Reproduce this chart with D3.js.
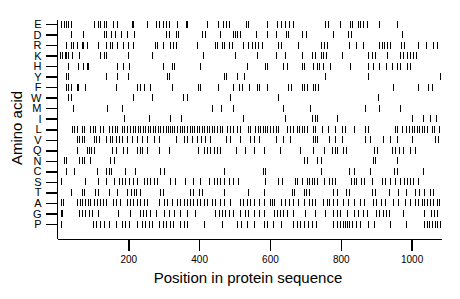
<!DOCTYPE html>
<html>
<head>
<meta charset="utf-8">
<script src="https://cdn.jsdelivr.net/npm/d3@7"></script>
<style>
  body { margin: 0; background: #fff; }
  text { font-family: "Liberation Sans", Arial, sans-serif; fill: #000; }
  .mark { stroke: #000; stroke-width: 1; shape-rendering: crispEdges; }
  .axis path, .axis line { stroke: #000; stroke-width: 1.5; shape-rendering: crispEdges; }
</style>
</head>
<body>
<div id="chart"></div>
<script>
// residue order, top to bottom
var aminoAcids = ["E","D","R","K","H","Y","F","W","M","I","L","V","Q","N","C","S","T","A","G","P"];
var xTicks = [200, 400, 600, 800, 1000];
var seqLength = 1083;

// positions of each residue in the sequence
var posE = [11,17,25,31,39,102,113,121,130,138,158,169,209,214,254,279,288,299,305,316,338,364,367,423,454,468,476,485,533,539,592,620,632,643,654,665,756,764,798,826,832,849,854,863,874,908,959];
var posD = [39,71,130,138,152,161,180,197,217,305,316,336,341,409,417,460,496,502,508,516,561,592,617,645,651,691,702,778,820,829,973];
var posR = [23,39,45,54,68,73,82,113,138,147,155,169,186,200,214,276,282,299,319,327,336,395,446,451,465,471,485,493,524,539,550,558,567,578,623,632,680,744,753,761,823,843,863,908,917,922,931,939,970,979,1018,1041,1060,1072];
var posK = [8,14,20,25,31,42,62,121,130,138,200,268,412,502,564,617,643,691,719,728,744,750,758,803,877,888,897,931,967,976,987,995,1004,1012];
var posH = [31,59,73,82,87,169,186,203,299,324,330,403,536,587,592,637,648,691,696,722,733,738,750,770,826,877,891,908,928,945,959,967,987,995];
var posY = [25,31,138,169,200,310,316,471,477,508,527,756,877,1080];
var posF = [25,31,39,54,59,79,164,225,234,243,262,324,397,403,454,496,513,522,541,564,570,592,651,659,691,696,705,722,728,736,947,1018,1046,1057];
var posW = [31,37,214,268,355,367,488,623,905];
var posM = [45,141,183,437,462,496,637,713,869,908,967];
var posI = [189,259,319,350,524,643,718,728,733,789,1000,1032,1052,1069];
var posL = [41,48,54,70,76,93,101,107,121,129,145,154,161,168,182,189,197,206,213,220,226,234,242,248,255,262,270,276,283,290,298,305,311,317,323,330,338,345,352,358,366,373,380,386,394,401,408,415,422,429,436,443,450,458,464,480,488,497,508,516,537,544,558,565,572,580,587,593,601,608,618,624,649,657,666,676,683,690,697,704,721,728,746,765,784,803,812,836,869,878,953,960,972,984,993,1000,1007,1014,1022,1028,1035,1043,1057,1064,1078];
var posV = [56,62,70,76,102,110,116,138,147,154,164,173,182,197,211,225,239,253,272,286,336,356,367,380,394,405,417,431,477,488,514,544,556,570,618,638,657,721,728,734,768,784,803,869,883,920,939,958,1000,1066,1075];
var posQ = [54,82,88,95,102,154,164,185,195,225,232,239,253,286,314,396,415,422,431,441,450,458,505,530,554,582,627,685,721,753,775,784,790,807,815,894,902,944,953,965,977,995,1010];
var posN = [18,25,60,68,74,93,149,159,697,704,734,744,890,897,958];
var posC = [25,48,112,138,145,151,192,220,290,300,471,580,587,744,824,837,883,950,958,1033];
var posS = [10,79,114,138,159,173,182,192,201,213,225,243,253,262,272,281,317,333,361,384,403,427,443,450,460,471,483,497,511,587,624,634,671,676,690,704,711,718,725,732,753,768,775,784,828,836,843,856,866,887,916,925,939,953,967,979,986,995,1005,1019];
var posT = [37,70,76,107,114,145,168,195,208,215,223,232,290,298,375,383,401,408,471,537,582,662,668,695,701,711,779,789,815,824,887,897,937,962,984,1010,1022,1035,1052,1061];
var posA = [10,15,56,63,70,79,85,93,104,112,121,129,138,157,164,176,197,206,213,225,234,243,253,288,300,309,323,338,347,356,366,375,384,394,403,413,422,436,446,460,471,488,516,525,535,544,554,568,582,599,605,610,631,643,655,665,678,697,709,718,728,751,761,768,777,789,806,821,836,854,866,890,900,913,925,947,962,981,995,1010,1019,1028,1035,1043,1052,1061,1071,1078];
var posG = [10,14,60,70,79,88,98,114,170,206,232,242,251,260,279,300,314,328,347,366,389,446,455,464,474,483,497,516,530,539,556,570,582,610,620,629,638,648,666,699,728,756,779,789,798,817,836,850,862,873,900,909,918,928,937,977,1035,1054,1063,1072];
var posP = [10,101,110,119,131,145,166,182,192,201,225,239,248,257,267,286,298,307,317,326,347,356,366,413,464,508,518,535,556,582,591,608,631,666,676,685,697,706,718,730,777,789,798,806,812,817,824,831,843,854,878,894,939,984,1035,1043,1050,1057,1065,1072,1080];

var positions = [posE,posD,posR,posK,posH,posY,posF,posW,posM,posI,posL,posV,posQ,posN,posC,posS,posT,posA,posG,posP];

var width = 460, height = 299;
var margin = {top: 24, right: 19, bottom: 71, left: 57.5};
var axisY = 239;

var marks = [];
aminoAcids.forEach(function(aa, i) {
  positions[i].forEach(function(p) { marks.push({aa: aa, pos: p}); });
});

var svg = d3.select("#chart").append("svg")
    .attr("width", width)
    .attr("height", height);

var x = d3.scaleLinear()
    .domain([0, seqLength])
    .range([margin.left, width - margin.right]);

var y = d3.scalePoint()
    .domain(aminoAcids)
    .range([margin.top, height - margin.bottom - 4]);

// residue ticks
svg.append("g")
    .selectAll("line")
    .data(marks)
  .enter().append("line")
    .attr("class", "mark")
    .attr("x1", function(d) { return Math.round(x(d.pos)) + 0.5; })
    .attr("x2", function(d) { return Math.round(x(d.pos)) + 0.5; })
    .attr("y1", function(d) { return y(d.aa) - 3.5; })
    .attr("y2", function(d) { return y(d.aa) + 3.5; });

// y axis
var yAxis = d3.axisLeft(y).tickSize(12).tickPadding(4).tickSizeOuter(0);
var gy = svg.append("g")
    .attr("class", "axis")
    .attr("transform", "translate(" + margin.left + ",0)")
    .call(yAxis);
gy.select(".domain").attr("d", "M0,20V" + axisY);
gy.selectAll("text").style("font-size", "11px");

// x axis
var xAxis = d3.axisBottom(x).tickValues(xTicks).tickFormat(d3.format("d"))
    .tickSize(12).tickPadding(5).tickSizeOuter(0);
var gx = svg.append("g")
    .attr("class", "axis")
    .attr("transform", "translate(0," + axisY + ")")
    .call(xAxis);
gx.selectAll("text").style("font-size", "10px");

svg.append("text")
    .attr("x", 248)
    .attr("y", 283)
    .attr("text-anchor", "middle")
    .style("font-size", "15px")
    .text("Position in protein sequence");

svg.append("text")
    .attr("transform", "translate(22,128) rotate(-90)")
    .attr("text-anchor", "middle")
    .style("font-size", "15px")
    .text("Amino acid");
</script>
</body>
</html>
